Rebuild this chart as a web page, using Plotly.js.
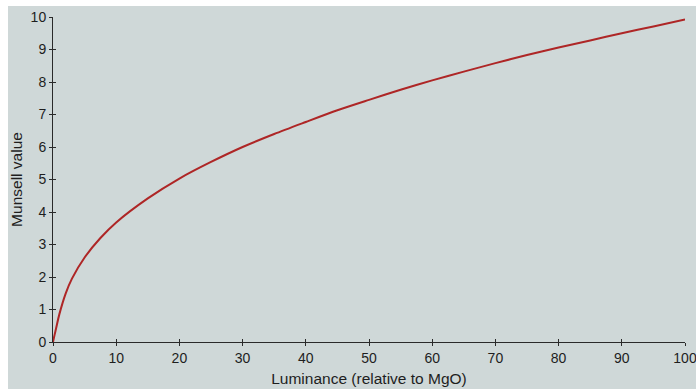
<!DOCTYPE html>
<html>
<head>
<meta charset="utf-8">
<script src="https://cdn.plot.ly/plotly-3.0.1.min.js"></script>
<style>
  html, body { margin: 0; padding: 0; background: #ffffff; width: 696px; height: 389px; overflow: hidden; }
  #chart { position: absolute; left: 8px; top: 6px; width: 688px; height: 383px; }
</style>
</head>
<body>
<div id="chart"></div>
<script>
// Luminance (relative to MgO)
const luminance = [0, 0.25, 0.5, 1, 2, 3, 5, 7.5, 10, 15, 20, 25, 30, 35, 40, 45, 50, 55, 60, 65, 70, 75, 80, 85, 90, 95, 100];
// Munsell value
const munsellValue = [0, 0.22, 0.43, 0.85, 1.49, 1.95, 2.6, 3.2, 3.68, 4.42, 5.03, 5.54, 6.0, 6.4, 6.77, 7.13, 7.45, 7.76, 8.05, 8.32, 8.58, 8.83, 9.06, 9.28, 9.5, 9.71, 9.92];
const xTicks = [0, 10, 20, 30, 40, 50, 60, 70, 80, 90, 100];
const yTicks = [0, 1, 2, 3, 4, 5, 6, 7, 8, 9, 10];

const bg = '#cfd8d8';
const axisColor = '#2a2a2a';
const fontFam = '"Liberation Sans", Arial, Helvetica, sans-serif';

const traces = [
  {
    x: luminance, y: munsellValue, type: 'scatter', mode: 'lines',
    line: { color: '#ae2626', width: 2, shape: 'spline', smoothing: 0.8 },
    hoverinfo: 'skip', cliponaxis: false
  },
  {
    x: luminance, y: munsellValue, xaxis: 'x2', yaxis: 'y2', type: 'scatter', mode: 'lines',
    line: { color: 'rgba(0,0,0,0)', width: 0 }, hoverinfo: 'skip', showlegend: false
  }
];

const commonAxis = {
  showgrid: false, zeroline: false, showline: true,
  linecolor: axisColor, linewidth: 1,
  tickcolor: axisColor, tickwidth: 1, ticklen: 3,
  tickfont: { family: fontFam, size: 14, color: '#1e1e1e' },
  ticklabeloverflow: 'allow',
  fixedrange: true
};

const layout = {
  width: 688, height: 383,
  paper_bgcolor: bg, plot_bgcolor: bg,
  margin: { l: 45, r: 11, t: 11, b: 47 },
  showlegend: false,
  font: { family: fontFam, size: 14, color: '#1e1e1e' },
  xaxis: Object.assign({}, commonAxis, {
    range: [0, 100], tickmode: 'array', tickvals: xTicks, ticktext: xTicks.map(String),
    ticks: 'outside',
    title: { text: 'Luminance (relative to MgO)', font: { family: fontFam, size: 15.5, color: '#1e1e1e' }, standoff: 8 }
  }),
  yaxis: Object.assign({}, commonAxis, {
    range: [0, 10], tickmode: 'array', tickvals: yTicks, ticktext: yTicks.map(String),
    ticks: 'outside',
    title: { text: 'Munsell value', font: { family: fontFam, size: 15.5, color: '#1e1e1e' }, standoff: 10 }
  }),
  xaxis2: Object.assign({}, commonAxis, {
    range: [0, 100], overlaying: 'x', anchor: 'y2', side: 'bottom',
    tickmode: 'array', tickvals: xTicks, ticks: 'inside', showticklabels: false, showline: false
  }),
  yaxis2: Object.assign({}, commonAxis, {
    range: [0, 10], overlaying: 'y', anchor: 'x2', side: 'left',
    tickmode: 'array', tickvals: yTicks, ticks: 'inside', showticklabels: false, showline: false
  })
};

Plotly.newPlot('chart', traces, layout, { displayModeBar: false, staticPlot: true });
</script>
</body>
</html>
